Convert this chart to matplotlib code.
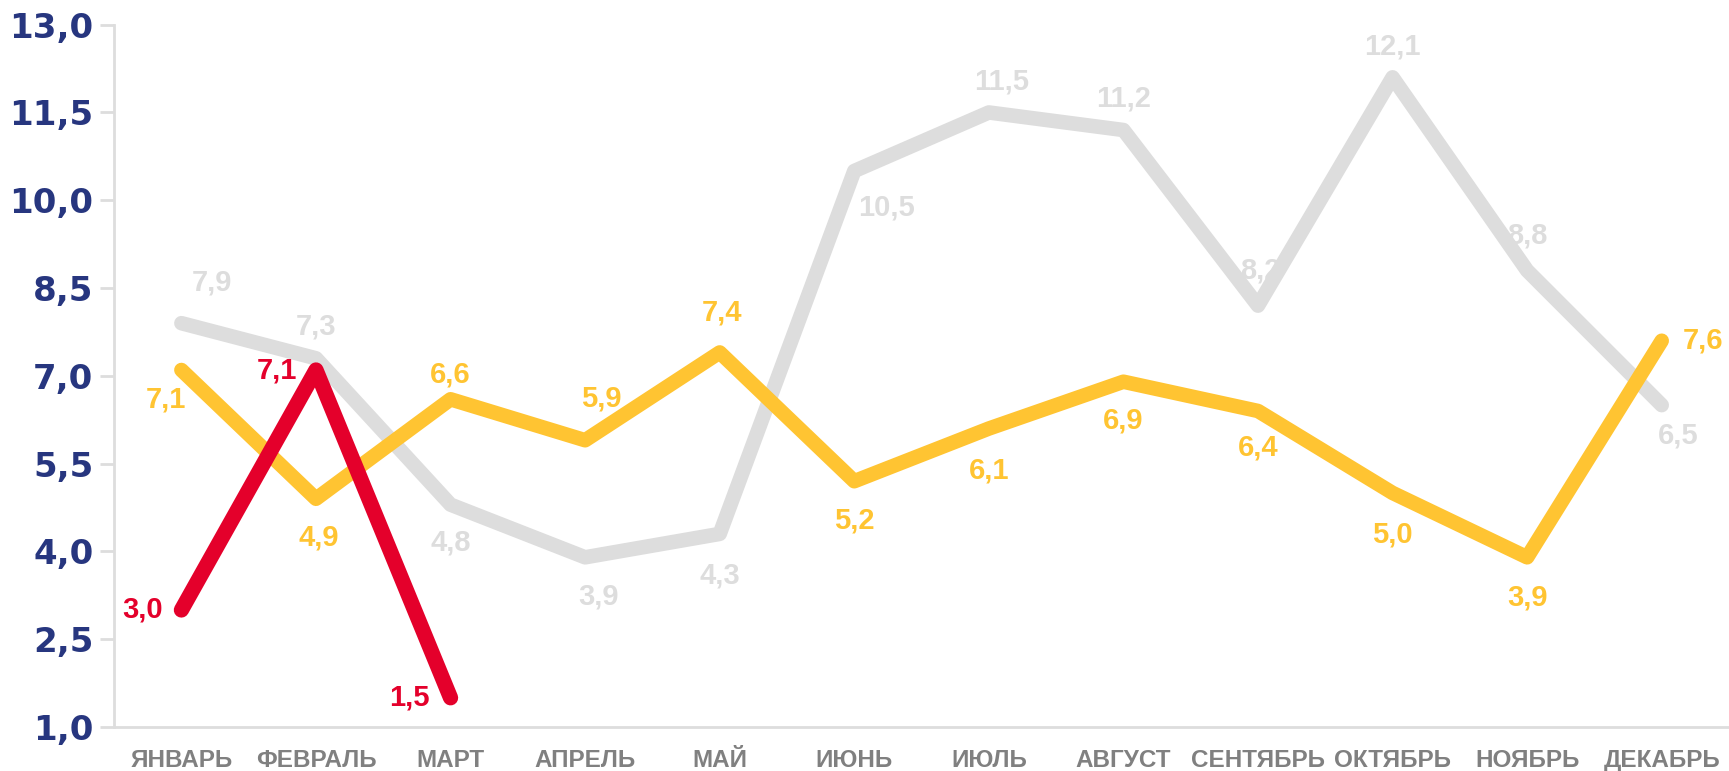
import matplotlib.pyplot as plt
from matplotlib.font_manager import fontManager

months = ['ЯНВАРЬ', 'ФЕВРАЛЬ', 'МАРТ', 'АПРЕЛЬ', 'МАЙ', 'ИЮНЬ', 'ИЮЛЬ',
          'АВГУСТ', 'СЕНТЯБРЬ', 'ОКТЯБРЬ', 'НОЯБРЬ', 'ДЕКАБРЬ']
gray_vals   = [7.9, 7.3, 4.8, 3.9, 4.3, 10.5, 11.5, 11.2, 8.2, 12.1, 8.8, 6.5]
yellow_vals = [7.1, 4.9, 6.6, 5.9, 7.4, 5.2, 6.1, 6.9, 6.4, 5.0, 3.9, 7.6]
red_vals    = [3.0, 7.1, 1.5]
y_ticks     = [1.0, 2.5, 4.0, 5.5, 7.0, 8.5, 10.0, 11.5, 13.0]

# label offsets (points) for each value label
gray_off = [(22, 29), (0, 23), (0, -27), (10, -28), (0, -30), (23, -26),
            (9, 22), (0, 23), (2, 25), (0, 22), (0, 25), (12, -22)]
yellow_off = [(-11, -21), (2, -28), (0, 18), (12, 30), (2, 29), (0, -28),
              (0, -30), (0, -28), (0, -26), (0, -30), (0, -29), (30, 0)]
red_off = [(-28, 0), (-28, 0), (-30, 0)]

GRAY, YELLOW, RED = '#DDDDDD', '#FFC432', '#E4002B'
NAVY, XGRAY = '#27367F', '#808080'

names = {f.name for f in fontManager.ttflist}
narrow = 'Liberation Sans Narrow' if 'Liberation Sans Narrow' in names else 'Liberation Sans'
xsize = 20 if narrow == 'Liberation Sans Narrow' else 17.5

fig = plt.figure(figsize=(17.29, 7.71), dpi=100)
ax = fig.add_axes([0.066, 0.057, 0.934, 0.911])

x = list(range(len(months)))
line_kw = dict(solid_capstyle='round', solid_joinstyle='round', clip_on=False)
ax.plot(x, gray_vals, color=GRAY, lw=10.5, zorder=2, **line_kw)
ax.plot(x, yellow_vals, color=YELLOW, lw=10.5, zorder=3, **line_kw)
ax.plot(x[:len(red_vals)], red_vals, color=RED, lw=11, zorder=4, **line_kw)

def fmt(v):
    return f'{v:.1f}'.replace('.', ',')

for vals, offs, c in [(gray_vals, gray_off, GRAY), (yellow_vals, yellow_off, YELLOW),
                      (red_vals, red_off, RED)]:
    for i, (v, o) in enumerate(zip(vals, offs)):
        ax.annotate(fmt(v), (i, v), xytext=o, textcoords='offset points',
                    ha='center', va='center', fontsize=21, fontweight='bold',
                    color=c, family='Liberation Sans', zorder=5)

ax.set_xlim(-0.5, 11.5)
ax.set_ylim(1.0, 13.0)
ax.set_yticks(y_ticks)
ax.set_yticklabels([fmt(t) for t in y_ticks], fontsize=24.5, fontweight='bold',
                   color=NAVY, family='DejaVu Sans')
ax.set_xticks(x)
ax.set_xticklabels(months, fontsize=xsize, fontweight='bold', color=XGRAY, family=narrow)
ax.tick_params(axis='y', length=10, width=2, color=GRAY, pad=5)
ax.tick_params(axis='x', length=0, pad=16)

for s in ['top', 'right']:
    ax.spines[s].set_visible(False)
for s in ['left', 'bottom']:
    ax.spines[s].set_color(GRAY)
    ax.spines[s].set_linewidth(2)

plt.savefig('out.png', dpi=100)
plt.close()
